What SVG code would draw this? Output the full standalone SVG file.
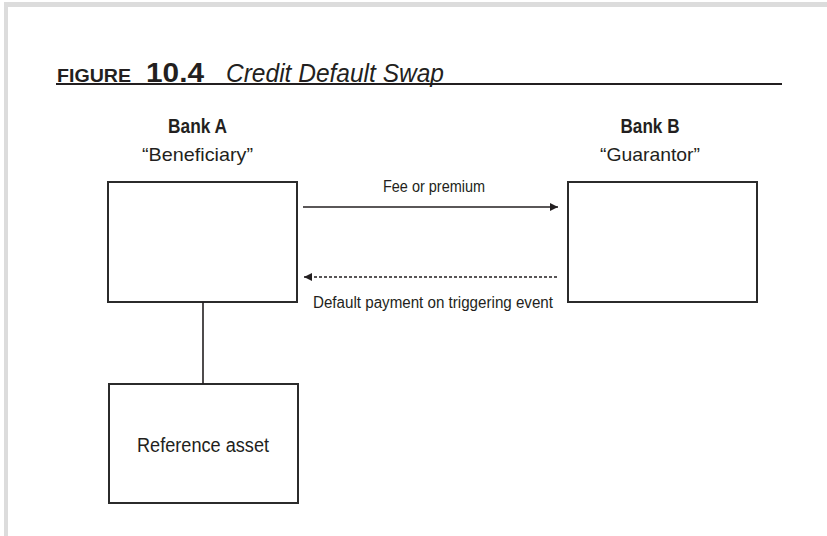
<svg xmlns="http://www.w3.org/2000/svg" width="827" height="536" viewBox="0 0 827 536">
<defs>
<style>
.t{font-family:"Liberation Sans Narrow","Liberation Sans",Arial,sans-serif;fill:#231f20}
.box{fill:#fff;stroke:#2b2b2b;stroke-width:2}
.ln{stroke:#231f20;stroke-width:1.6;fill:none}
</style>
<marker id="ah" viewBox="0 0 10 10" refX="10" refY="5" markerWidth="8" markerHeight="9" markerUnits="userSpaceOnUse" orient="auto">
<path d="M0,0 L10,5 L0,10 Z" fill="#231f20"/>
</marker>
</defs>
<rect width="827" height="536" fill="#fff"/>
<rect x="4" y="2" width="823" height="5" fill="#dcdcdc"/>
<rect x="4" y="2" width="4" height="534" fill="#dcdcdc"/>
<g id="title">
<text class="t" x="57" y="82" font-size="18" font-weight="bold" textLength="74" lengthAdjust="spacingAndGlyphs">FIGURE</text>
<text class="t" x="146" y="82" font-size="27" font-weight="bold" textLength="58" lengthAdjust="spacingAndGlyphs">10.4</text>
<text class="t" x="226" y="82" font-size="26" font-style="italic" textLength="218" lengthAdjust="spacingAndGlyphs">Credit Default Swap</text>
<line x1="56" y1="84" x2="782" y2="84" stroke="#231f20" stroke-width="2"/>
</g>
<g id="bankA">
<text class="t" x="197.5" y="133" font-size="20" font-weight="bold" text-anchor="middle" textLength="59" lengthAdjust="spacingAndGlyphs">Bank A</text>
<text class="t" x="197.5" y="161" font-size="19" text-anchor="middle" textLength="111" lengthAdjust="spacingAndGlyphs">“Beneficiary”</text>
<rect class="box" x="108" y="182" width="189" height="120"/>
</g>
<g id="bankB">
<text class="t" x="650" y="133" font-size="20" font-weight="bold" text-anchor="middle" textLength="59" lengthAdjust="spacingAndGlyphs">Bank B</text>
<text class="t" x="650" y="161" font-size="19" text-anchor="middle" textLength="100" lengthAdjust="spacingAndGlyphs">“Guarantor”</text>
<rect class="box" x="568" y="182" width="189" height="120"/>
</g>
<g id="refAsset">
<rect class="box" x="109" y="384" width="189" height="119"/>
<text class="t" x="203" y="452" font-size="20" text-anchor="middle" textLength="132" lengthAdjust="spacingAndGlyphs">Reference asset</text>
</g>
<g id="connectors">
<line class="ln" x1="303" y1="207" x2="558" y2="207" marker-end="url(#ah)"/>
<text class="t" x="434" y="192" font-size="16" text-anchor="middle" textLength="102" lengthAdjust="spacingAndGlyphs">Fee or premium</text>
<line class="ln" x1="557" y1="277" x2="304" y2="277" stroke-dasharray="3,2" marker-end="url(#ah)"/>
<text class="t" x="433" y="308" font-size="16" text-anchor="middle" textLength="240" lengthAdjust="spacingAndGlyphs">Default payment on triggering event</text>
<line class="ln" x1="203" y1="302" x2="203" y2="384"/>
</g>
</svg>
